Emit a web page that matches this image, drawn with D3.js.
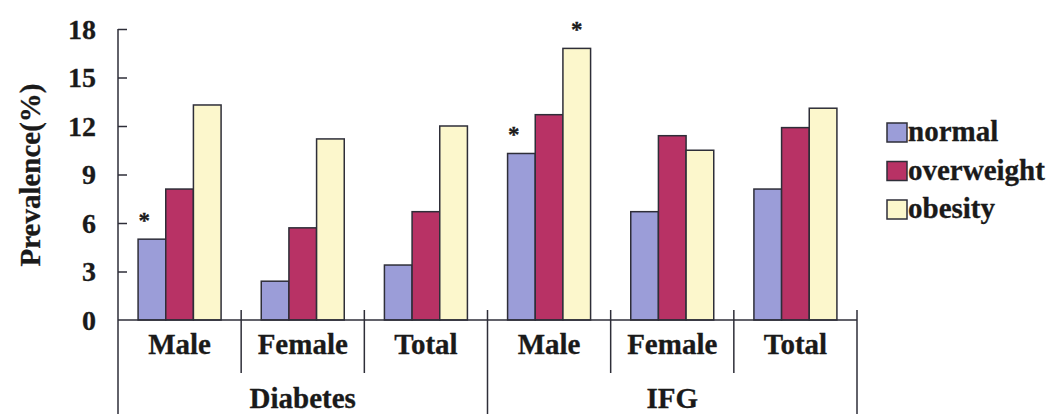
<!DOCTYPE html>
<html>
<head>
<meta charset="utf-8">
<script src="https://cdn.jsdelivr.net/npm/d3@7"></script>
<style>
  html, body { margin: 0; padding: 0; background: #ffffff; }
  svg { display: block; }
  svg text { font-family: "Liberation Serif", "Times New Roman", "DejaVu Serif", serif !important; font-weight: bold; fill: #1a1a1a; stroke: #1a1a1a; stroke-width: 0.3px; }
</style>
</head>
<body>
<svg id="chart" width="1053" height="414"></svg>
<script>
// ---- data ----
const groups = ["Diabetes", "IFG"];
const categories = ["Male", "Female", "Total"];
const seriesNames = ["normal", "overweight", "obesity"];
const normalValues     = [5.0, 2.4, 3.4, 10.3, 6.7, 8.1];
const overweightValues = [8.1, 5.7, 6.7, 12.7, 11.4, 11.9];
const obesityValues    = [13.3, 11.2, 12.0, 16.8, 10.5, 13.1];
const yTicks = [0, 3, 6, 9, 12, 15, 18];
// significance markers: [column index, series name]
const starMarks = [[0, "normal"], [3, "normal"], [3, "obesity"]];

const colors = { normal: "#9b9dd8", overweight: "#b83265", obesity: "#fcf7cc" };
const outline = "#2e2e38";
const serif = "'Liberation Serif', 'Times New Roman', 'DejaVu Serif', serif";

// ---- build table ----
const columns = [];
groups.forEach(g => categories.forEach(c => columns.push({ key: g + "|" + c, group: g, cat: c })));
const seriesValues = { normal: normalValues, overweight: overweightValues, obesity: obesityValues };
columns.forEach((col, i) => {
  col.values = seriesNames.map(s => ({ series: s, value: seriesValues[s][i], col: i }));
});

// ---- layout ----
const svg = d3.select("#chart").attr("font-family", serif);
const axisX = 118, axisRight = 857;
const y0 = 320, yTop = 29;

const y = d3.scaleLinear().domain([0, 18]).range([y0, yTop]);
const x = d3.scaleBand().domain(columns.map(d => d.key)).range([axisX, axisRight]).paddingInner(0).paddingOuter(0);
const bw = x.bandwidth();
const groupW = 83;
const xs = d3.scaleBand().domain(seriesNames).range([(bw - groupW) / 2, (bw + groupW) / 2]);

// bars
const colG = svg.append("g").selectAll("g").data(columns).join("g")
  .attr("transform", d => `translate(${x(d.key)},0)`);
colG.selectAll("rect").data(d => d.values).join("rect")
  .attr("x", d => xs(d.series))
  .attr("y", d => y(d.value))
  .attr("width", xs.bandwidth())
  .attr("height", d => y(0) - y(d.value))
  .attr("fill", d => colors[d.series])
  .attr("stroke", outline)
  .attr("stroke-width", 1.5);

// asterisks
svg.append("g").selectAll("text").data(starMarks).join("text")
  .attr("x", d => x(columns[d[0]].key) + xs(d[1]) + xs.bandwidth() * (d[1] === "normal" ? 0.22 : 0.5))
  .attr("y", d => y(seriesValues[d[1]][d[0]]) - 11)
  .attr("text-anchor", "middle")
  .style("font-size", "23px")
  .text("*");

// y axis
const yAxis = d3.axisLeft(y).tickValues(yTicks).tickSize(0).tickPadding(0);
const yg = svg.append("g").attr("transform", `translate(${axisX},0)`).call(yAxis);
yg.attr("font-family", serif);
yg.select(".domain").remove();
yg.selectAll(".tick text")
  .attr("x", -22)
  .attr("dy", "0.33em")
  .style("font-size", "28px")
  .attr("fill", "#1a1a1a");
yg.selectAll(".tick").filter(d => d !== 0).append("line")
  .attr("x1", 0).attr("x2", 9).attr("y1", 0).attr("y2", 0)
  .attr("stroke", outline).attr("stroke-width", 1.5);

// axis lines
svg.append("line").attr("x1", axisX).attr("x2", axisX).attr("y1", yTop).attr("y2", 414)
  .attr("stroke", outline).attr("stroke-width", 1.5);
svg.append("line").attr("x1", axisX).attr("x2", axisRight).attr("y1", y0).attr("y2", y0)
  .attr("stroke", outline).attr("stroke-width", 1.5);

// separators
const bounds = d3.range(1, columns.length + 1);
svg.append("g").selectAll("line").data(bounds).join("line")
  .attr("x1", i => axisX + i * bw).attr("x2", i => axisX + i * bw)
  .attr("y1", 310)
  .attr("y2", i => (i % categories.length === 0) ? 414 : 373)
  .attr("stroke", outline).attr("stroke-width", 1.5);

// category labels
svg.append("g").selectAll("text").data(columns).join("text")
  .attr("x", d => x(d.key) + bw / 2)
  .attr("y", 354)
  .attr("text-anchor", "middle")
  .style("font-size", "29px")
  .text(d => d.cat);

// group labels
svg.append("g").selectAll("text").data(groups).join("text")
  .attr("x", (g, i) => axisX + (i * categories.length + categories.length / 2) * bw)
  .attr("y", 408)
  .attr("text-anchor", "middle")
  .style("font-size", "29px")
  .text(d => d);

// y title
svg.append("text")
  .attr("transform", "translate(40,175) rotate(-90)")
  .attr("text-anchor", "middle")
  .style("font-size", "29px")
  .text("Prevalence(%)");

// legend
const leg = svg.append("g").selectAll("g").data(seriesNames).join("g")
  .attr("transform", (d, i) => `translate(887,${123 + i * 38.5})`);
leg.append("rect").attr("width", 20).attr("height", 19)
  .attr("fill", d => colors[d]).attr("stroke", outline).attr("stroke-width", 1.5);
leg.append("text").attr("x", 21).attr("y", 18)
  .style("font-size", "29px")
  .text(d => d);
</script>
</body>
</html>
